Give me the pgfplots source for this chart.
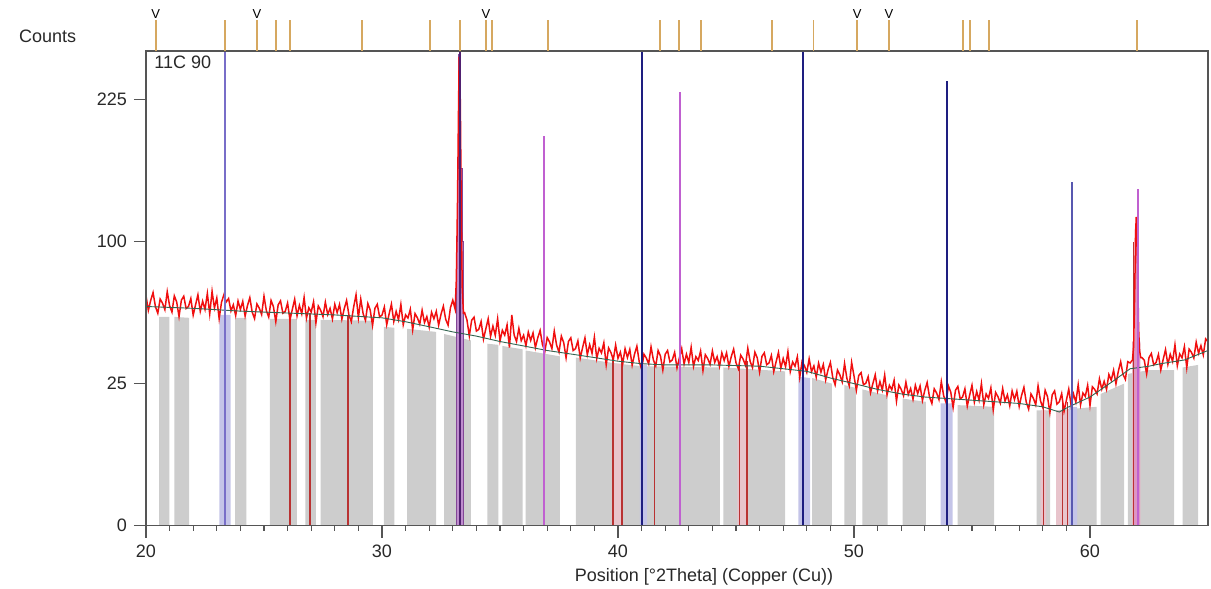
\documentclass[border=0pt]{standalone}
\usepackage{fontspec}
\setmainfont{Liberation Sans}
\usepackage{pgfplots}
\pgfplotsset{compat=1.18}
\usetikzlibrary{plotmarks}

\definecolor{bandgray}{RGB}{205,205,205}
\definecolor{lav}{RGB}{196,196,232}
\definecolor{pinkband}{RGB}{232,196,204}
\definecolor{stickorange}{RGB}{214,168,96}
\definecolor{navy}{RGB}{30,30,128}
\definecolor{orchid}{RGB}{192,96,208}
\definecolor{bluestick}{RGB}{120,110,200}
\definecolor{darkpurple}{RGB}{80,32,112}
\definecolor{midblue}{RGB}{88,88,176}
\definecolor{redstick}{RGB}{185,50,50}
\definecolor{bgline}{RGB}{50,100,80}
\definecolor{axisgray}{RGB}{85,85,85}
\definecolor{txt}{RGB}{40,40,40}
\definecolor{purpfill}{RGB}{190,140,205}
\definecolor{purpedge}{RGB}{130,70,150}
\definecolor{pinkfill}{RGB}{222,150,195}
\definecolor{datared}{RGB}{240,15,15}

\begin{document}
\begin{tikzpicture}
\begin{axis}[name=main, at={(0,0)}, anchor=south west,
  scale only axis, width=531pt, height=237.35pt,
  xmin=20, xmax=65, ymin=0, ymax=279,
  y coord trafo/.code={\pgfmathparse{sqrt(#1)}},
  y coord inv trafo/.code={\pgfmathparse{(#1)^2}},
  ytick={0,25,100,225}, yticklabels={0,25,100,225},
  xtick={20,30,40,50,60}, xticklabels={20,30,40,50,60},
  minor x tick num=9,
  xtick pos=bottom, ytick pos=left,
  tick align=outside, major tick length=6pt, minor tick length=2.5pt,
  tick style={axisgray, line width=0.6pt},
  axis line style={axisgray, line width=0.7pt},
  tick label style={font=\fontsize{9}{10}\selectfont, text=txt},
  /pgf/number format/assume math mode=true,
  xlabel={Position [°2Theta] (Copper (Cu))},
  xlabel style={at={(axis description cs:0.5254,0)}, anchor=center, yshift=-25.65pt, font=\fontsize{9}{10}\selectfont, text=txt},
  ylabel={Counts},
  ylabel style={rotate=-90, at={(axis description cs:-0.1262,1.0316)}, anchor=west, font=\fontsize{9}{10}\selectfont, text=txt},
  axis on top,
]
% gray background regions
\addplot[fill=bandgray, draw=none] coordinates {
(20.56,0)(20.56,54)(20.99,54)(20.99,0)
(21.20,0)(21.20,54)(21.83,53.5)(21.83,0)
(23.78,0)(23.78,53.5)(24.25,53.5)(24.25,0)
(25.25,0)(25.25,53)(26.39,53)(26.39,0)
(26.75,0)(26.75,52.5)(27.20,52.5)(27.20,0)
(27.40,0)(27.40,52.5)(29.61,52)(29.61,0)
(30.08,0)(30.08,49)(30.52,48.5)(30.52,0)
(31.07,0)(31.07,48)(32.29,46.5)(32.29,0)
(32.63,0)(32.63,45.5)(33.77,42.5)(33.77,0)
(34.46,0)(34.46,41)(34.93,40.5)(34.93,0)
(35.10,0)(35.10,40)(35.96,38.5)(35.96,0)
(36.09,0)(36.09,38)(37.54,35.5)(37.54,0)
(38.22,0)(38.22,35)(40,32.5)(41,31.5)(44.32,31)(44.32,0)
(44.46,0)(44.46,31)(47.08,29.5)(47.08,0)
(48.23,0)(48.23,27)(49.06,25)(49.06,0)
(49.59,0)(49.59,24.5)(50.08,23.5)(50.08,0)
(50.35,0)(50.35,23)(51.43,21)(51.43,0)
(52.06,0)(52.06,20)(53.05,19)(53.05,0)
(54.39,0)(54.39,18)(55.94,17.5)(55.94,0)
(57.74,0)(57.74,16.5)(58.31,16.5)(58.31,0)
(58.56,0)(58.56,16.5)(60.28,17.5)(60.28,0)
(60.45,0)(60.45,21.5)(61.45,25)(61.45,0)
(61.60,0)(61.60,28.5)(62.5,30)(63.56,30)(63.56,0)
(63.93,0)(63.93,31)(64.58,32)(64.58,0)
} -- cycle;
% lavender regions
\addplot[fill=lav, draw=none] coordinates {
(23.11,0)(23.11,55)(23.59,55)(23.59,0)
(40.93,0)(40.93,32)(41.22,32)(41.22,0)
(47.64,0)(47.64,27.5)(48.14,27)(48.14,0)
(53.67,0)(53.67,18.5)(54.18,18.5)(54.18,0)
(59.12,0)(59.12,17.5)(59.45,17.5)(59.45,0)
} -- cycle;
% pink regions
\addplot[fill=pinkband, draw=none] coordinates {
(39.73,0)(39.73,32.5)(40.22,32.5)(40.22,0)
(45.06,0)(45.06,30)(45.52,30)(45.52,0)
(57.91,0)(57.91,16.5)(58.14,16.5)(58.14,0)
(58.56,0)(58.56,16.5)(59.12,16.5)(59.12,0)
(61.78,0)(61.78,42)(62.13,42)(62.13,0)
} -- cycle;
% peak profiles
\addplot[fill=purpfill, draw=purpedge, line width=0.4pt] coordinates {
(33.14,0)(33.14,100)(33.19,100)(33.19,158)(33.24,158)(33.24,275)(33.33,275)(33.33,158)(33.40,158)(33.40,100)(33.445,100)(33.445,0)
} -- cycle;
\addplot[fill=pinkfill, draw=none] coordinates {
(61.81,0)(61.81,42)(61.90,42)(61.90,110)(62.04,110)(62.04,42)(62.12,42)(62.12,0)
} -- cycle;
% red reference sticks
\addplot[ycomb, redstick, line width=0.7pt, mark=none] coordinates {
(26.10,56)(26.95,56)(28.56,55)(39.79,35)(40.17,35)(41.54,33)(45.14,33.5)(45.47,33.5)(58.02,19.5)(58.83,19)(59.04,19)(61.84,100)
};
% measured pattern
\addplot[datared, line width=0.75pt, mark=none] coordinates {
(20.0,65.4)(20.1,57.4)(20.2,62.9)(20.3,67.3)(20.4,59.4)(20.5,55.9)(20.6,63.6)(20.7,61.3)(20.8,57.8)(20.9,67.8)
(21.0,59.9)(21.1,56.5)(21.2,65.4)(21.3,62)(21.4,54.1)(21.5,63)(21.6,65.2)(21.7,58.4)(21.8,59.5)(21.9,63.9)
(22.0,54.9)(22.1,60.4)(22.2,66)(22.3,56.9)(22.4,62.4)(22.5,57.9)(22.6,66.8)(22.7,55.5)(22.8,68)(22.9,58.7)
(23.0,64.2)(23.1,53)(23.2,61.8)(23.3,66)(23.4,62)(23.5,63.9)(23.6,57.1)(23.7,60.4)(23.8,54.7)(23.9,62.5)
(24.0,57.9)(24.1,62.3)(24.2,54.4)(24.3,60)(24.4,64.4)(24.5,56.5)(24.6,53.1)(24.7,60.9)(24.8,58.6)(24.9,55.2)
(25.0,65.2)(25.1,57.3)(25.2,53.9)(25.3,62.8)(25.4,59.4)(25.5,51.5)(25.6,60.4)(25.7,62.6)(25.8,55.9)(25.9,56.9)
(26.0,61.4)(26.1,52.4)(26.2,57.9)(26.3,63.5)(26.4,54.5)(26.5,60.1)(26.6,55.6)(26.7,64.5)(26.8,53.3)(26.9,58.8)
(27.0,56.5)(27.1,62.1)(27.2,50.9)(27.3,59.8)(27.4,57.5)(27.5,54.1)(27.6,61.9)(27.7,55.2)(27.8,58.5)(27.9,52.9)
(28.0,60.7)(28.1,56.2)(28.2,60.6)(28.3,52.8)(28.4,58.3)(28.5,62.8)(28.6,54.9)(28.7,51.5)(28.8,59.3)(28.9,66)
(29.0,53.6)(29.1,63.6)(29.2,55.7)(29.3,52.2)(29.4,61.1)(29.5,57.6)(29.6,49.7)(29.7,58.5)(29.8,60.7)(29.9,53.9)
(30.0,54.9)(30.1,59.2)(30.2,50)(30.3,55.4)(30.4,60.8)(30.5,51.6)(30.6,56.9)(30.7,52.5)(30.8,60.6)(30.9,50)
(31.0,55)(31.1,53.4)(31.2,58)(31.3,47.5)(31.4,55.7)(31.5,53.5)(31.6,50.3)(31.7,57.5)(31.8,51.1)(31.9,54.1)
(32.0,48.8)(32.1,56.4)(32.2,53)(32.3,56.9)(32.4,49.8)(32.5,55.3)(32.6,59.7)(32.7,52.7)(32.8,49.8)(32.9,58.8)
(33.0,63)(33.1,58)(33.15,75)(33.2,130)(33.24,210)(33.27,272)(33.30,262)(33.33,195)(33.36,118)(33.4,70)(33.45,56)
(33.5,56.2)(33.6,52.4)(33.7,44.6)(33.8,52.3)(33.9,53.8)
(34.0,46.9)(34.1,47.7)(34.2,51.6)(34.3,43.1)(34.4,48)(34.5,53)(34.6,44.4)(34.7,49.3)(34.8,44.9)(34.9,53)
(35.0,42.3)(35.1,47.3)(35.2,45)(35.3,49.9)(35.4,39.3)(35.5,55)(35.6,45)(35.7,42)(35.8,48.2)(35.9,42.4)
(36.0,44.9)(36.1,40.1)(36.2,46.4)(36.3,42.5)(36.4,46)(36.5,39.3)(36.6,43.7)(36.7,47.2)(36.8,40.6)(36.9,37.6)
(37.0,43.8)(37.1,41.8)(37.2,38.8)(37.3,46.9)(37.4,40.3)(37.5,37.3)(37.6,44.5)(37.7,41.5)(37.8,34.9)(37.9,42)
(38.0,43.7)(38.1,38)(38.2,38.8)(38.3,42.3)(38.4,34.8)(38.5,39.3)(38.6,43.7)(38.7,36.2)(38.8,40.6)(38.9,36.8)
(39.0,44)(39.1,34.6)(39.2,39)(39.3,37)(39.4,41.4)(39.5,32)(39.6,39.1)(39.7,37.1)(39.8,34.1)(39.9,40.4)
(40.0,34.7)(40.1,37.3)(40.2,32.5)(40.3,38.8)(40.4,35)(40.5,38.5)(40.6,31.9)(40.7,36.4)(40.8,39.9)(40.9,33.3)
(41.0,30.4)(41.1,36.4)(41.2,34.8)(41.3,32.4)(41.4,39.6)(41.5,34)(41.6,31.6)(41.7,38)(41.8,35.6)(41.9,30)
(42.0,36.4)(42.1,38)(42.2,33.2)(42.3,34)(42.4,37.2)(42.5,30.8)(42.6,34.8)(42.7,38.8)(42.8,32.4)(42.9,36.4)
(43.0,33)(43.1,39.4)(43.2,31.4)(43.3,35.4)(43.4,33.8)(43.5,37.8)(43.6,29.8)(43.7,36.2)(43.8,34.6)(43.9,32.2)
(44.0,37.8)(44.1,33)(44.2,35.4)(44.3,31.4)(44.4,37)(44.5,33.8)(44.6,37)(44.7,31.4)(44.8,35.4)(44.9,38.6)
(45.0,32.9)(45.1,30.5)(45.2,36)(45.3,34.4)(45.4,31.9)(45.5,39)(45.6,33.4)(45.7,30.9)(45.8,37.3)(45.9,34.9)
(46.0,29.2)(46.1,35.5)(46.2,37)(46.3,32.1)(46.4,32.8)(46.5,35.9)(46.6,29.4)(46.7,33.3)(46.8,37.2)(46.9,30.7)
(47.0,34.6)(47.1,31.3)(47.2,37.5)(47.3,29.4)(47.4,33.2)(47.5,31.5)(47.6,35.3)(47.7,27.2)(47.8,33.4)(47.9,31.7)
(48.0,29.1)(48.1,34.5)(48.2,29.4)(48.3,31.6)(48.4,27.3)(48.5,32.7)(48.6,29.2)(48.7,32.2)(48.8,26.3)(48.9,30.1)
(49.0,33)(49.1,27.2)(49.2,24.6)(49.3,30)(49.4,28.2)(49.5,25.6)(49.6,32.6)(49.7,26.8)(49.8,24.2)(49.9,33)
(50.0,27.8)(50.1,22.7)(50.2,27.9)(50.3,29)(50.4,24.6)(50.5,25.1)(50.6,27.5)(50.7,21.9)(50.8,25)(50.9,28.2)
(51.0,22.5)(51.1,25.7)(51.2,22.8)(51.3,28.1)(51.4,21.2)(51.5,24.4)(51.6,22.9)(51.7,26.2)(51.8,19.2)(51.9,24.5)
(52.0,23)(52.1,20.9)(52.2,25.5)(52.3,21.3)(52.4,23.3)(52.5,19.8)(52.6,24.4)(52.7,21.6)(52.8,24.2)(52.9,19.4)
(53.0,22.7)(53.1,25.4)(53.2,20.5)(53.3,18.5)(53.4,23.2)(53.5,21.8)(53.6,19.7)(53.7,25.7)(53.8,20.9)(53.9,18.8)
(54.0,24.2)(54.1,22.1)(54.2,17.3)(54.3,22.7)(54.4,24)(54.5,19.9)(54.6,20.5)(54.7,23.2)(54.8,17.7)(54.9,21.1)
(55.0,24.4)(55.1,18.9)(55.2,22.3)(55.3,19.5)(55.4,25)(55.5,18.1)(55.6,21.5)(55.7,20.1)(55.8,23.5)(55.9,16.6)
(56.0,22)(56.1,20.6)(56.2,18.6)(56.3,23.3)(56.4,19.2)(56.5,21.2)(56.6,17.8)(56.7,22.5)(56.8,19.7)(56.9,22.4)
(57.0,17.6)(57.1,21)(57.2,23.7)(57.3,18.9)(57.4,16.8)(57.5,21.5)(57.6,20.1)(57.7,18.1)(57.8,24.2)(57.9,19.4)
(58.0,17.3)(58.1,22.7)(58.2,20.6)(58.3,15.8)(58.4,21.2)(58.5,22.5)(58.6,18.3)(58.7,19)(58.8,21.6)(58.9,16.2)
(59.0,19.5)(59.1,23.1)(59.2,17.9)(59.3,21.5)(59.4,18.9)(59.5,24.6)(59.6,18.1)(59.7,21.8)(59.8,20.7)(59.9,24.4)
(60.0,17.9)(60.1,23.9)(60.2,23)(60.3,21.5)(60.4,26.7)(60.5,23.1)(60.6,25.8)(60.7,23)(60.8,28.3)(60.9,26.2)
(61.0,29.9)(61.1,24.9)(61.2,29.5)(61.3,33.3)(61.4,28.3)(61.5,26.5)(61.6,33.3)(61.7,32.8)(61.8,34)
(61.85,40)(61.9,72)(61.93,105)(61.96,118)(61.99,110)(62.02,78)(62.06,48)(62.1,38)(62.15,35)
(62.2,35)(62.3,33.9)(62.4,28.5)(62.5,35)(62.6,36.7)(62.7,32)(62.8,33)(62.9,36.3)
(63.0,30)(63.1,34.2)(63.2,38.4)(63.3,32.2)(63.4,36.4)(63.5,33.4)(63.6,40.5)(63.7,31.7)(63.8,36.5)(63.9,34.9)
(64.0,39.7)(64.1,30.9)(64.2,38.6)(64.3,37.2)(64.4,34.8)(64.5,41.7)(64.6,36.8)(64.7,40.1)(64.8,36.1)(64.9,43.2)
(65.0,42)
};
% background line
\addplot[bgline, line width=0.45pt, mark=none] coordinates {
(20,59.5)(22,58.5)(24,57)(26,56)(28,55)(30,53.5)(31,51.5)(32,49)(33,46.5)(34,44.5)(35,42)(36,40)(37,38)(38,36.5)(39,35)(40,33.5)(41,32.5)(42,32)(44,32)(46,31.5)(47,30.5)(48,29.5)(49,27)(50,25)(51,23)(52,21.5)(53,20.5)(54,20)(56,19)(57,18.5)(58,17.5)(58.7,16)(59.1,17.5)(60,20.5)(61,26)(61.7,30.5)(62.5,31.5)(63,32.5)(64,34)(65,38)
};
% reference sticks
\addplot[ycomb, bluestick, line width=1pt, mark=none] coordinates {(23.35,400)};
\addplot[ycomb, darkpurple, line width=1pt, mark=none] coordinates {(33.31,400)};
\addplot[ycomb, navy, line width=1pt, mark=none] coordinates {(41.03,400)(47.84,400)(53.93,245)};
\addplot[ycomb, midblue, line width=1pt, mark=none] coordinates {(59.24,146)};
\addplot[ycomb, orchid, line width=1pt, mark=none] coordinates {(36.85,188)(42.63,233)(62.02,140)};
\node[anchor=west, inner sep=0pt, font=\fontsize{9}{10}\selectfont, text=txt] at (axis description cs:0.0075,0.9758) {11C 90};
\end{axis}
\begin{axis}[at={(main.north west)}, anchor=south west,
  scale only axis, width=531pt, height=21.5pt,
  xmin=20, xmax=65, ymin=0, ymax=1, hide axis, clip=false]
\addplot[ycomb, stickorange, line width=0.9pt, mark=none] coordinates {
(20.41,0.72)(23.35,0.72)(24.70,0.72)(25.51,0.72)(26.09,0.72)(29.14,0.72)(32.03,0.72)(33.31,0.72)(34.41,0.72)(34.65,0.72)(37.05,0.72)(41.78,0.72)(42.60,0.72)(43.52,0.72)(46.54,0.72)(48.28,0.72)(50.14,0.72)(51.48,0.72)(54.63,0.72)(54.92,0.72)(55.73,0.72)(61.98,0.72)
};
\addplot[only marks, mark=text, text mark={V}, text mark as node=true, text mark style={font=\fontsize{6.5}{7}\selectfont, text=black, inner sep=0pt}] coordinates {
(20.41,0.86)(24.70,0.86)(34.41,0.86)(50.14,0.86)(51.48,0.86)
};
\end{axis}
\pgfresetboundingbox
\path[use as bounding box] ([shift={(-73pt,-31.65pt)}]main.south west) rectangle ([shift={(532.5pt,262.85pt)}]main.south west);
\end{tikzpicture}
\end{document}
